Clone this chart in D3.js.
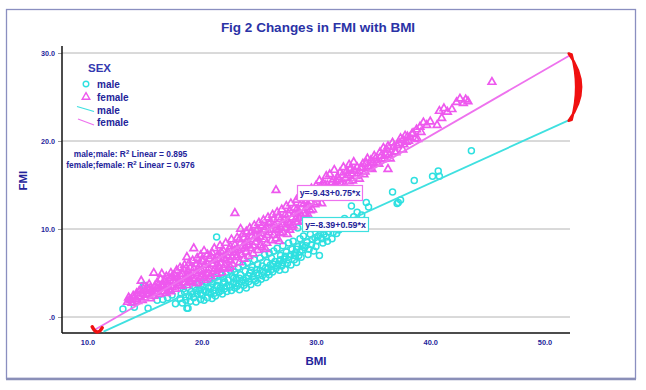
<!DOCTYPE html>
<html><head><meta charset="utf-8">
<script src="https://cdn.jsdelivr.net/npm/d3@7"></script>
<style>body{margin:0;background:#fff}svg{display:block;font-family:"Liberation Sans",Arial,sans-serif}</style>
</head><body><svg id="c" width="646" height="390"></svg>
<script>
const sexes = ["male", "female"];
const intercepts = [-8.39, -9.43];
const slopes = [0.59, 0.75];
const r2 = [0.895, 0.976];
const fitRange = [[11.4, 52.2], [10.6, 52.2]];
const xTicks = [10, 20, 30, 40, 50];
const xTickLabels = ["10.0", "20.0", "30.0", "40.0", "50.0"];
const yTicks = [0, 10, 20, 30];
const yTickLabels = [".0", "10.0", "20.0", "30.0"];

const malePts = [
[13.1,0.9],[14.1,1.1],[15.3,1.0],[15.0,3.5],[16.1,1.9],[16.6,2.0],[17.7,1.5],[18.7,1.0],[17.4,2.5],[14.9,3.6],[18.8,1.0],[17.0,2.2],
[18.1,2.1],[18.3,1.6],[18.5,2.8],[18.6,1.9],[18.9,2.4],[18.4,3.2],
[19.0,1.8],[19.1,2.9],[19.3,2.2],[19.4,3.4],[19.5,1.7],[19.6,2.6],[19.8,3.1],[19.9,2.0],[19.7,3.7],
[20.0,2.5],[20.1,3.5],[20.2,1.9],[20.3,4.0],[20.4,2.9],[20.5,2.2],[20.6,3.3],[20.7,4.3],[20.8,2.6],[20.9,3.8],[20.9,2.1],
[21.0,3.0],[21.1,4.5],[21.2,2.4],[21.3,9.1],[21.3,3.6],[21.4,4.1],[21.5,2.8],[21.6,3.3],[21.7,4.8],[21.8,2.6],[21.9,3.9],[21.9,4.4],
[22.0,3.2],[22.1,5.0],[22.2,2.9],[22.3,4.2],[22.4,3.6],[22.5,5.3],[22.6,3.0],[22.7,4.6],[22.8,3.9],[22.9,5.1],[22.9,3.3],
[23.0,4.3],[23.1,3.5],[23.2,5.6],[23.3,3.1],[23.4,4.8],[23.5,4.0],[23.6,5.9],[23.7,3.6],[23.8,5.2],[23.9,4.4],[23.9,3.3],
[24.0,6.2],[24.1,4.0],[24.2,5.0],[24.3,3.7],[24.4,5.7],[24.5,4.6],[24.6,6.5],[24.7,4.1],[24.8,5.4],[24.9,3.9],[24.9,6.0],
[25.0,4.8],[25.1,6.7],[25.2,4.3],[25.3,5.8],[25.4,5.1],[25.5,7.1],[25.6,4.5],[25.7,6.2],[25.8,5.5],[25.9,4.8],[25.9,7.3],
[26.0,5.9],[26.1,6.7],[26.2,5.1],[26.3,7.5],[26.4,6.3],[26.5,5.5],[26.6,7.8],[26.7,6.0],[26.8,5.3],[26.9,7.0],[26.9,6.5],
[27.0,5.8],[27.1,8.1],[27.2,6.6],[27.3,5.4],[27.4,7.4],[27.5,6.1],[27.6,8.4],[27.7,6.9],[27.8,5.9],[27.9,7.7],
[28.0,8.6],[28.1,6.5],[28.2,7.3],[28.3,6.2],[28.4,10.1],[28.4,8.0],[28.5,7.0],[28.6,8.9],[28.7,6.8],[28.8,7.6],[28.9,9.2],
[29.0,7.9],[29.2,8.5],[29.3,7.1],[29.5,9.4],[29.6,8.2],[29.8,7.5],[29.9,9.0],
[30.1,8.7],[30.3,7.0],[30.4,9.6],[30.6,8.4],[30.8,10.0],[30.9,9.1],
[31.1,9.7],[31.3,10.5],[31.4,8.9],[31.6,10.2],[31.8,9.5],[31.9,10.8],
[32.2,10.4],[32.5,11.2],[32.8,10.7],[33.1,12.6],[33.3,11.4],[33.6,11.9],[34.0,11.6],[34.4,13.0],[34.6,12.5],
[36.7,14.2],[37.1,12.9],[37.4,13.3],[37.2,13.0],[38.6,15.5],[40.2,16.0],[40.7,16.6],[40.8,16.0],[43.6,18.9],
[18.2,2.6],[18.6,2.3],[19.2,2.6],[19.5,3.0],[19.9,2.7],[20.2,3.0],[20.6,2.8],[20.8,3.4],[21.1,2.7],[21.4,3.5],[21.7,3.0],
[22.0,4.0],[22.2,3.5],[22.5,3.4],[22.8,4.4],[23.0,3.8],[23.3,4.4],[23.6,4.2],[23.8,3.9],[24.1,4.7],[24.3,5.3],[24.6,4.3],
[24.8,5.0],[25.1,5.3],[25.3,4.7],[25.6,5.6],[25.8,5.1],[26.1,5.4],[26.3,6.0],[26.6,5.8],[26.8,6.4],[27.1,6.2],[27.3,6.9],
[27.6,6.5],[27.8,7.1],[28.1,7.0],[28.3,7.7],[28.6,7.4],[28.8,8.1],[29.1,8.1],[29.4,7.7],[29.7,8.8],[30.0,8.0],[30.2,9.2],
[30.5,8.9],[30.7,9.4],[31.0,8.6],[31.5,9.6],[32.0,9.9]
];

const femalePts = [
[13.5,1.7],[13.6,2.2],[13.8,1.9],[14.0,2.4],[13.9,1.6],
[14.2,2.0],[14.3,2.7],[14.5,2.3],[14.6,3.0],[14.7,4.1],[14.8,1.9],[14.9,2.6],[14.4,1.8],
[15.0,2.2],[15.1,2.9],[15.2,3.4],[15.3,2.5],[15.4,3.7],[15.5,2.1],[15.6,3.1],[15.7,2.7],[15.8,5.0],[15.9,3.5],[15.8,2.4],
[16.0,2.8],[16.1,3.9],[16.2,3.2],[16.3,2.6],[16.4,4.3],[16.5,3.6],[16.6,2.9],[16.7,4.0],[16.8,3.3],[16.9,4.6],[16.9,2.7],[16.5,4.9],
[17.0,3.7],[17.1,3.1],[17.2,4.4],[17.3,5.0],[17.4,3.4],[17.5,4.1],[17.6,4.8],[17.7,3.2],[17.8,5.3],[17.9,3.8],[17.9,4.5],[17.3,2.9],
[18.0,4.2],[18.1,5.6],[18.2,3.5],[18.3,4.9],[18.4,3.9],[18.5,5.9],[18.6,4.5],[18.7,6.8],[18.7,3.6],[18.8,5.2],[18.9,4.1],[18.9,6.1],[18.4,5.4],
[19.0,4.7],[19.1,3.9],[19.2,6.4],[19.3,5.5],[19.3,7.8],[19.4,4.3],[19.5,5.0],[19.6,6.7],[19.7,4.0],[19.8,5.8],[19.9,4.6],[19.9,7.0],[19.6,3.8],
[20.0,5.3],[20.1,6.3],[20.2,7.5],[20.2,4.4],[20.3,5.9],[20.4,4.9],[20.5,7.1],[20.6,5.5],[20.7,6.6],[20.8,4.6],[20.9,7.3],[20.9,6.0],[20.5,4.2],
[21.0,5.2],[21.1,7.8],[21.2,6.4],[21.3,4.9],[21.4,7.0],[21.5,5.7],[21.6,8.1],[21.7,6.1],[21.8,5.0],[21.9,7.5],[21.9,6.7],[21.4,5.4],
[22.0,5.9],[22.1,8.4],[22.2,7.0],[22.3,5.5],[22.4,7.7],[22.5,6.4],[22.6,8.8],[22.7,6.0],[22.8,7.3],[22.9,11.8],[22.9,8.2],[22.5,5.7],
[23.0,6.8],[23.1,9.0],[23.2,7.6],[23.3,6.2],[23.4,10.0],[23.4,8.4],[23.5,7.1],[23.6,9.4],[23.7,6.6],[23.8,8.0],[23.9,9.7],[23.9,7.4],
[24.0,8.8],[24.1,6.9],[24.2,10.1],[24.3,7.8],[24.4,9.2],[24.5,7.2],[24.6,10.4],[24.7,8.5],[24.8,9.8],[24.9,7.6],[24.9,8.9],
[25.0,10.7],[25.1,8.1],[25.2,9.5],[25.3,7.9],[25.4,11.0],[25.5,8.8],[25.6,10.2],[25.7,8.4],[25.8,11.3],[25.9,9.6],[25.6,7.7],
[26.0,10.8],[26.1,8.7],[26.2,11.6],[26.3,9.3],[26.4,10.4],[26.5,14.4],[26.5,8.9],[26.6,11.9],[26.7,9.9],[26.8,8.6],[26.9,11.1],[26.9,10.2],
[27.0,12.2],[27.1,9.6],[27.2,11.0],[27.3,10.1],[27.4,12.6],[27.5,9.4],[27.6,11.7],[27.7,10.6],[27.8,12.9],[27.9,11.3],[27.7,9.9],
[28.0,10.4],[28.1,12.4],[28.2,11.1],[28.3,13.3],[28.4,10.8],[28.5,12.0],[28.6,13.6],[28.7,11.5],[28.8,10.9],[28.9,12.8],
[29.0,13.9],[29.1,11.7],[29.2,12.5],[29.3,14.2],[29.4,11.4],[29.5,13.1],[29.6,14.6],[29.7,12.2],[29.8,13.6],[29.9,12.8],
[30.0,14.9],[30.1,13.0],[30.3,15.5],[30.4,14.0],[30.5,12.9],[30.6,15.2],[30.7,14.4],[30.9,13.6],[30.9,16.0],
[31.0,15.0],[31.2,16.2],[31.3,14.4],[31.5,15.6],[31.6,16.7],[31.7,14.9],[31.9,15.9],
[32.1,16.4],[32.2,15.2],[32.4,17.0],[32.6,15.8],[32.7,16.6],[32.9,15.4],[32.9,17.3],
[33.1,16.3],[33.3,17.6],[33.5,16.0],[33.6,17.0],[33.8,15.7],[33.9,16.9],
[34.1,17.4],[34.3,16.5],[34.5,18.0],[34.6,17.1],[34.8,17.8],[34.9,16.8],
[35.1,18.3],[35.3,17.5],[35.6,18.7],[35.8,17.9],[35.9,19.2],
[36.1,18.5],[36.3,19.4],[36.3,16.8],[36.5,18.0],[36.7,19.8],[36.9,18.8],
[37.1,19.5],[37.4,20.3],[37.6,19.0],[37.8,20.6],[37.9,19.9],[37.6,20.1],[38.0,20.5],[38.4,20.8],[38.7,20.3],[39.2,21.0],
[38.2,20.4],[38.5,20.9],[38.8,21.3],[38.9,20.2],
[39.1,21.6],[39.4,22.1],[39.7,21.8],[40.0,22.2],[40.6,21.8],[41.0,22.6],[40.8,23.4],[41.2,23.7],[41.5,23.3],[41.9,23.6],
[42.3,24.4],[42.6,24.8],[42.9,24.3],[43.1,24.7],[43.3,24.5],[45.4,26.7],
[13.7,2.0],[14.1,2.2],[14.5,2.9],[14.9,3.2],[15.2,2.6],[15.5,3.3],[15.9,2.9],[16.2,3.6],[16.6,3.4],[16.8,4.2],[17.1,3.5],
[17.4,4.6],[17.7,4.0],[18.0,3.6],[18.2,4.6],[18.5,4.3],[18.8,4.7],[19.0,5.6],[19.2,4.4],[19.5,6.0],[19.8,5.2],[20.0,6.5],
[20.1,4.8],[20.4,6.2],[20.6,5.0],[20.8,6.9],[21.0,6.0],[21.2,5.5],[21.5,6.6],[21.7,7.4],[21.9,5.5],[22.1,6.5],[22.3,7.3],
[22.5,8.0],[22.7,6.8],[22.9,7.6],[23.1,7.0],[23.3,8.8],[23.5,7.8],[23.7,9.0],[23.9,8.5],[24.1,8.2],[24.3,9.6],[24.5,8.1],
[24.7,9.2],[24.9,10.0],[25.1,9.1],[25.3,10.4],[25.5,9.9],[25.7,9.3],[25.9,10.6],[26.1,9.9],[26.3,11.1],[26.5,10.0],
[26.7,11.3],[26.9,9.5],[27.1,10.5],[27.3,11.6],[27.5,10.8],[27.7,12.1],[27.9,10.2],[28.1,11.7],[28.3,12.2],[28.5,11.2],
[28.7,12.9],[28.9,11.8],[29.1,13.2],[29.3,12.8],[29.5,12.1],[29.7,13.7],[29.9,14.2],[30.2,13.8],[30.4,14.8],[30.6,13.7],
[30.8,15.0],[31.1,14.1],[31.4,15.3],[31.6,14.6],[31.8,15.4],[32.0,15.6],[32.3,16.1],[32.5,15.0],[32.8,16.1],[33.0,16.8],
[33.2,15.5],[33.4,16.6],[33.7,16.3],[34.0,17.0],[34.2,16.2],[34.4,17.5],[34.7,16.9],[35.0,17.6],[35.2,18.0],[35.5,17.4],
[35.7,18.3],[36.0,18.0],[36.2,19.0],[36.4,18.4],[36.8,19.3],[37.0,18.7],[37.3,19.7],[37.7,19.6],[38.1,20.0]
];

const markColor = ["#2ee0e0", "#ee58ee"];
const lineColor = ["#3fe0e0", "#ee72ee"];
const textColor = "#24249a";

const svg = d3.select("#c");
const x = d3.scaleLinear().domain([10, 50]).range([87.5, 544.5]);
const y = d3.scaleLinear().domain([0, 30]).range([317, 53]);
const xMin = x.invert(62), xMax = x.invert(570);
const yMin = y.invert(333), yMax = y.invert(46);

// frame
svg.append("rect").attr("x", 6.5).attr("y", 9.5).attr("width", 629).attr("height", 369)
  .attr("fill", "#fff").attr("stroke", "#8a8fc0").attr("stroke-width", 1.3);
svg.append("line").attr("x1", 6).attr("x2", 636).attr("y1", 379).attr("y2", 379)
  .attr("stroke", "#8a8fb8").attr("stroke-width", 2.5);

// title
svg.append("text").attr("x", 318).attr("y", 32).attr("text-anchor", "middle")
  .attr("font-size", 13.5).attr("font-weight", "bold").attr("fill", "#2a32a6")
  .text("Fig 2 Changes in FMI with BMI");

// gridlines
svg.append("g").selectAll("line").data(yTicks).join("line")
  .attr("x1", x(xMin)).attr("x2", x(xMax)).attr("y1", d => y(d)).attr("y2", d => y(d))
  .attr("stroke", "#b4b4b4").attr("stroke-width", 1);

// axes
const xAxis = d3.axisBottom(x).tickValues(xTicks).tickFormat((d, i) => xTickLabels[i]).tickSize(0).tickPadding(7);
const gx = svg.append("g").attr("transform", `translate(0,${y(yMin)})`).call(xAxis);
gx.select(".domain").remove();
gx.selectAll("text").attr("font-size", 7.4).attr("font-weight", "bold").attr("fill", textColor).attr("font-family", "Liberation Sans, Arial, sans-serif");
svg.append("line").attr("x1", x(xMin)).attr("x2", x(xMax)).attr("y1", y(yMin)).attr("y2", y(yMin)).attr("stroke", "#111").attr("stroke-width", 1.5);

const yAxis = d3.axisLeft(y).tickValues(yTicks).tickFormat((d, i) => yTickLabels[i]).tickSize(4).tickPadding(3);
const gy = svg.append("g").attr("transform", `translate(${x(xMin)},0)`).call(yAxis);
gy.select(".domain").remove();
gy.selectAll(".tick line").attr("stroke", "#999");
gy.selectAll("text").attr("font-size", 7.2).attr("font-weight", "bold").attr("fill", textColor).attr("font-family", "Liberation Sans, Arial, sans-serif");
svg.append("line").attr("x1", x(xMin)).attr("x2", x(xMin)).attr("y1", y(yMax)).attr("y2", y(yMin)).attr("stroke", "#111").attr("stroke-width", 1.5);

// axis titles
svg.append("text").attr("x", x(30)).attr("y", 365).attr("text-anchor", "middle")
  .attr("font-size", 11.5).attr("font-weight", "bold").attr("fill", textColor).text("BMI");
svg.append("text").attr("transform", `translate(27,${y(15.5)}) rotate(-90)`).attr("text-anchor", "middle")
  .attr("font-size", 11.5).attr("font-weight", "bold").attr("fill", textColor).text("FMI");

// points
const tri = d3.symbol(d3.symbolTriangle, 25);
svg.append("g").selectAll("circle").data(malePts).join("circle")
  .attr("cx", d => x(d[0])).attr("cy", d => y(d[1])).attr("r", 3)
  .attr("fill", "none").attr("stroke", markColor[0]).attr("stroke-width", 1.5);
svg.append("g").selectAll("path").data(femalePts).join("path")
  .attr("d", tri).attr("transform", d => `translate(${x(d[0])},${y(d[1])})`)
  .attr("fill", "none").attr("stroke", markColor[1]).attr("stroke-width", 1.7);

// fit lines
sexes.forEach((s, i) => {
  const [a, b] = fitRange[i];
  svg.append("line")
    .attr("x1", x(a)).attr("y1", y(intercepts[i] + slopes[i] * a))
    .attr("x2", x(b)).attr("y2", y(intercepts[i] + slopes[i] * b))
    .attr("stroke", lineColor[i]).attr("stroke-width", 1.8);
});

// equation labels
const eqPos = [[302, 217, 66, 14], [297, 185, 65, 15]];
sexes.forEach((s, i) => {
  const [bx, by, bw, bh] = eqPos[i];
  svg.append("rect").attr("x", bx + 0.5).attr("y", by + 0.5).attr("width", bw).attr("height", bh)
    .attr("fill", "#fff").attr("stroke", lineColor[i]).attr("stroke-width", 1.2);
  svg.append("text").attr("x", bx + bw / 2 + 0.5).attr("y", by + bh / 2 + 3.5).attr("text-anchor", "middle")
    .attr("font-size", 8.8).attr("font-weight", "bold").attr("fill", textColor)
    .text(`y=${intercepts[i].toFixed(2)}+${slopes[i].toFixed(2)}*x`);
});

// legend
svg.append("text").attr("x", 88).attr("y", 72).attr("font-size", 11.5).attr("font-weight", "bold").attr("fill", "#3338b0").text("SEX");
svg.append("circle").attr("cx", 86).attr("cy", 84).attr("r", 2.8).attr("fill", "none").attr("stroke", markColor[0]).attr("stroke-width", 1.4);
svg.append("path").attr("d", tri).attr("transform", "translate(86,97)").attr("fill", "none").attr("stroke", markColor[1]).attr("stroke-width", 1.4);
svg.append("line").attr("x1", 77).attr("y1", 106.5).attr("x2", 94).attr("y2", 111.5).attr("stroke", lineColor[0]).attr("stroke-width", 1.3);
svg.append("line").attr("x1", 78).attr("y1", 119).attr("x2", 94).attr("y2", 125).attr("stroke", lineColor[1]).attr("stroke-width", 1.3);
const legLabels = ["male", "female", "male", "female"];
const legY = [88, 101, 113.5, 126];
legLabels.forEach((t, i) => {
  svg.append("text").attr("x", 97).attr("y", legY[i]).attr("font-size", 10).attr("font-weight", "bold").attr("fill", textColor).text(t);
});

// R2 labels
sexes.forEach((s, i) => {
  const t = svg.append("text").attr("x", 130.5).attr("y", 157 + i * 11).attr("text-anchor", "middle")
    .attr("font-size", 8.4).attr("font-weight", "bold").attr("fill", textColor);
  t.append("tspan").text(`${s};${s}: R`);
  t.append("tspan").attr("dy", -3).attr("font-size", 6).text("2");
  t.append("tspan").attr("dy", 3).text(` Linear = ${r2[i].toFixed(3)}`);
});

// red hand-drawn highlights
const ex = x(52.2) - 1;
const yTop = y(intercepts[1] + slopes[1] * 52.2) - 2;
const yBot = y(intercepts[0] + slopes[0] * 52.2) + 1;
const ym = (yTop + yBot) / 2;
svg.append("path")
  .attr("d", `M${ex},${yTop} Q${ex + 25},${ym} ${ex},${yBot} L${ex + 3},${yBot - 1} Q${ex + 12},${ym} ${ex + 3},${yTop + 1} Z`)
  .attr("fill", "#f01010").attr("stroke", "#f01010").attr("stroke-width", 2.5).attr("stroke-linejoin", "round");
const cx0 = x(10.85), cy0 = y(-1.45);
svg.append("path")
  .attr("d", `M${cx0 - 5},${cy0 - 3} Q${cx0},${cy0 + 7} ${cx0 + 5},${cy0 - 2}`)
  .attr("fill", "none").attr("stroke", "#f01010").attr("stroke-width", 3.5).attr("stroke-linecap", "round");
</script></body></html>
